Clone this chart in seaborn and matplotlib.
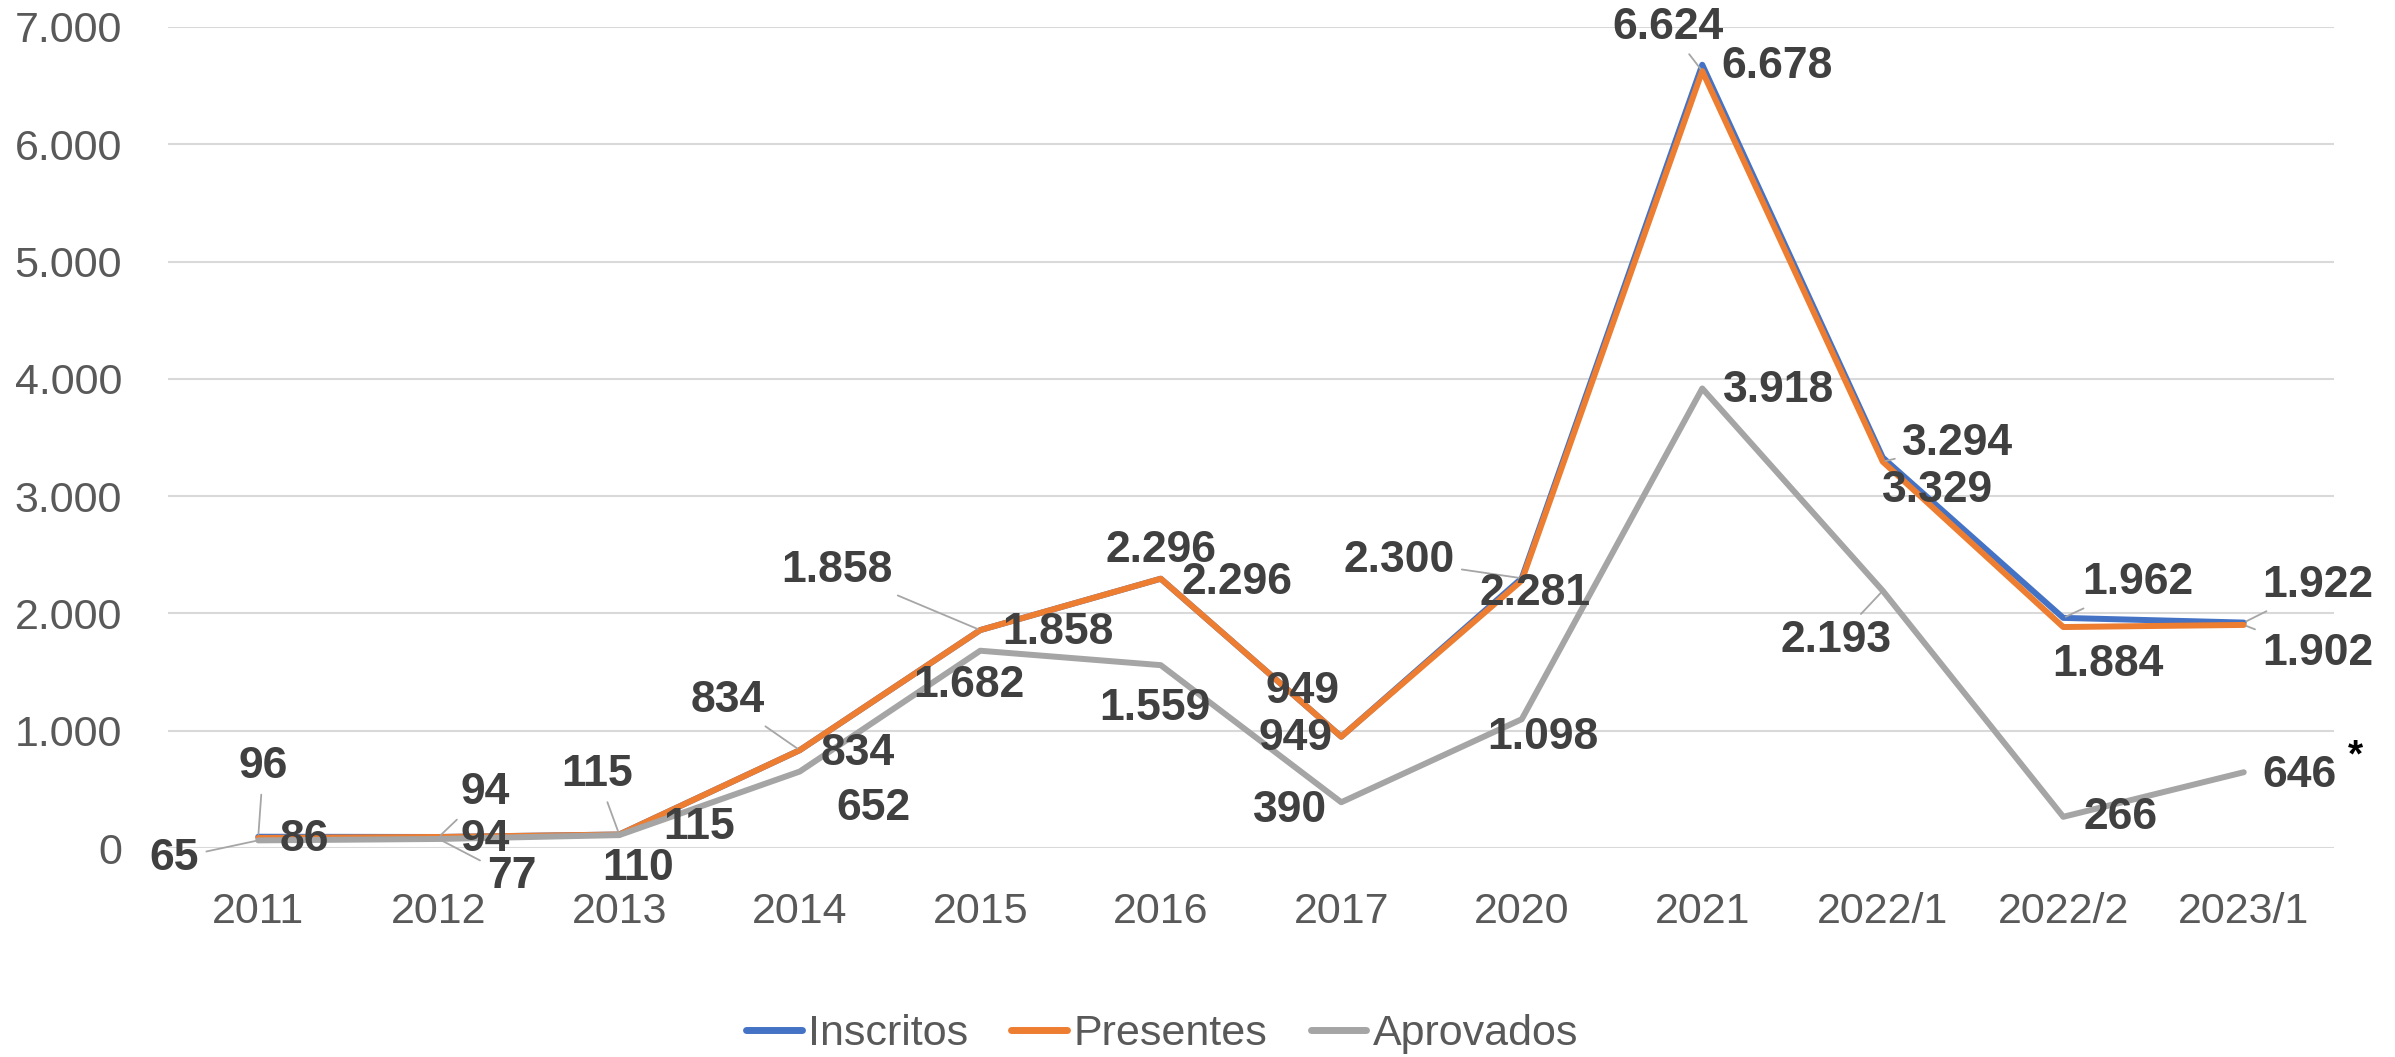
import pandas as pd
import numpy as np
import matplotlib
matplotlib.use("Agg")
import matplotlib.pyplot as plt
import seaborn as sns
from matplotlib import font_manager
from matplotlib.ticker import FuncFormatter

# data
anos = ["2011", "2012", "2013", "2014", "2015", "2016", "2017",
        "2020", "2021", "2022/1", "2022/2", "2023/1"]
inscritos = [96, 94, 115, 834, 1858, 2296, 949, 2300, 6678, 3329, 1962, 1922]
presentes = [86, 94, 115, 834, 1858, 2296, 949, 2281, 6624, 3294, 1884, 1902]
aprovados = [65, 77, 110, 652, 1682, 1559, 390, 1098, 3918, 2193, 266, 646]

series_names = ["Inscritos", "Presentes", "Aprovados"]
cores = ["#4472C4", "#ED7D31", "#A5A5A5"]

# label offsets (pixels) and whether a leader line is drawn
offsets = {
    "Inscritos": [(5, 70), (46, 44), (-22, 60), (-72, 50), (-143, 60), (0, 28),
                  (-39, 45), (-123, 18), (75, -2), (55, -33), (75, 35), (74, 37)],
    "Presentes": [(46, -2), (46, -3), (80, 7), (58, -3), (78, -2), (76, -4),
                  (-46, -2), (13, -13), (-34, 44), (75, 18), (45, -37), (74, -29)],
    "Aprovados": [(-84, -18), (73, -38), (19, -33), (74, -37), (-11, -35), (-6, -43),
                  (-51, -8), (21, -18), (76, -2), (-47, -50), (57, -1), (56, -3)],
}
leaders = {
    "Inscritos": [0, 1, 2, 3, 4, 7, 10, 11],
    "Presentes": [8, 9, 11],
    "Aprovados": [0, 1, 9],
}

names = {f.name for f in font_manager.fontManager.ttflist}
if "Liberation Sans Narrow" in names:
    fam, fs_tick, fs_lab = "Liberation Sans Narrow", 34, 34
else:
    fam, fs_tick, fs_lab = "Liberation Sans", 31, 32

sns.set_style("white")
plt.rcParams["font.family"] = [fam, "DejaVu Sans"]

df = pd.DataFrame({
    "pos": list(range(len(anos))) * 3,
    "valor": inscritos + presentes + aprovados,
    "serie": [s for s in series_names for _ in anos],
})

fig = plt.figure(figsize=(23.95, 10.57), dpi=100)
ax = fig.add_axes([168 / 2395, 1 - 848 / 1057, (2334 - 168) / 2395, (848 - 27) / 1057])

sns.lineplot(data=df, x="pos", y="valor", hue="serie", hue_order=series_names,
             palette=cores, linewidth=4.3, errorbar=None, ax=ax, legend=True)

ax.set_xlim(-0.5, len(anos) - 0.5)
ax.set_ylim(0, 7000)
ax.set_yticks(np.arange(0, 7001, 1000))
ax.yaxis.set_major_formatter(FuncFormatter(lambda v, p: f"{int(v):,}".replace(",", ".")))
ax.set_xticks(range(len(anos)))
ax.set_xticklabels(anos)
ax.set_xlabel("")
ax.set_ylabel("")
ax.grid(axis="y", color="#D9D9D9", linewidth=1.5)
ax.set_axisbelow(True)
for s in ax.spines.values():
    s.set_visible(False)
ax.tick_params(axis="both", length=0, labelsize=fs_tick, colors="#595959")
ax.tick_params(axis="y", pad=33)
ax.tick_params(axis="x", pad=32)

valores = {"Inscritos": inscritos, "Presentes": presentes, "Aprovados": aprovados}
for nome in series_names:
    for i, v in enumerate(valores[nome]):
        dx, dy = offsets[nome][i]
        txt = f"{v:,}".replace(",", ".")
        arrow = None
        if i in leaders[nome]:
            arrow = dict(arrowstyle="-", color="#A6A6A6", lw=1.3, shrinkA=3, shrinkB=2)
        ax.annotate(txt, xy=(i, v), xytext=(dx, dy), textcoords="offset pixels",
                    ha="center", va="center", fontsize=fs_lab, fontweight="bold",
                    color="#404040", arrowprops=arrow, annotation_clip=False)

# asterisk next to the last Aprovados value
ax.annotate("*", xy=(len(anos) - 1, aprovados[-1]), xytext=(112, 16),
            textcoords="offset pixels", ha="center", va="center",
            fontsize=28, fontweight="bold", color="#000000", annotation_clip=False)

handles, labels = ax.get_legend_handles_labels()
ax.legend_.remove()
for h in handles:
    h.set_linewidth(5)
fig.legend(handles, labels, loc="center", bbox_to_anchor=(1162 / 2395, 1 - 1034 / 1057),
           ncol=3, frameon=False, fontsize=fs_tick, labelcolor="#595959",
           handlelength=1.3, handletextpad=0.15, columnspacing=1.0)

fig.savefig("out.png", dpi=100)
